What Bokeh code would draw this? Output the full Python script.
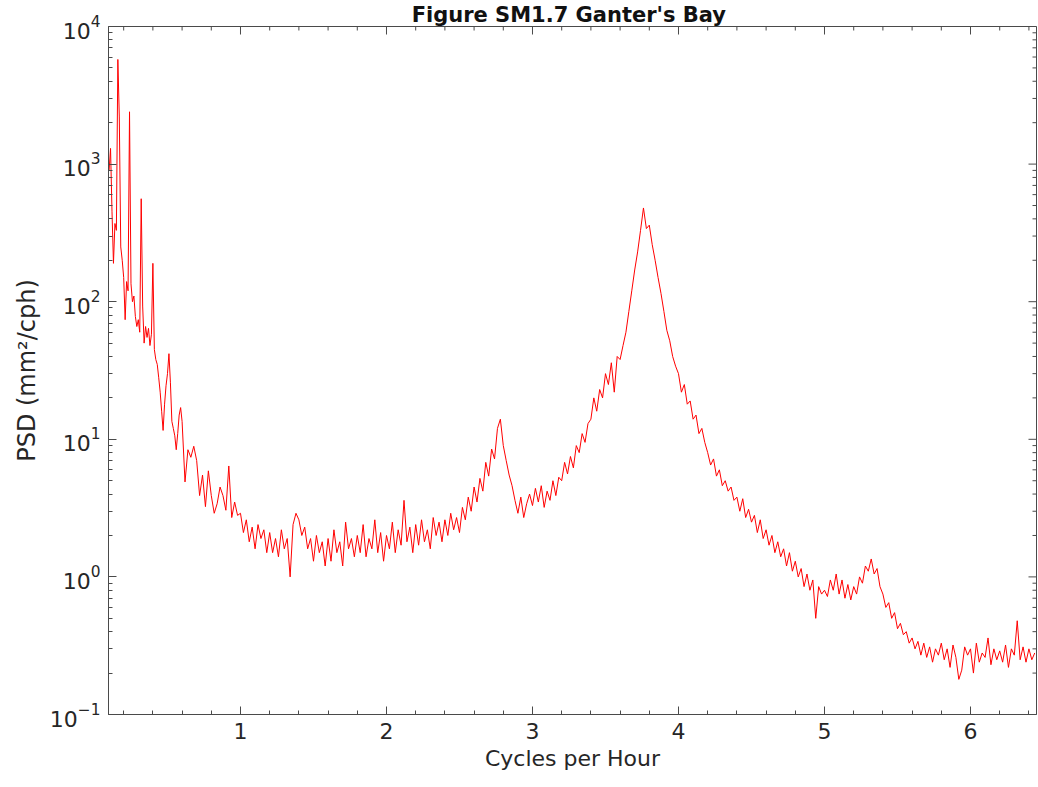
import numpy as np
from bokeh.plotting import figure
from bokeh.models import (ColumnDataSource, FixedTicker, LogTickFormatter, Range1d, Title)
from bokeh.embed import file_html
from bokeh.resources import INLINE

# ---------------- data ----------------
title_text = "Figure SM1.7  Ganter's Bay"
x_label = "Cycles per Hour"
y_label = "PSD (mm\u00b2/cph)"
x_tick_values = [1, 2, 3, 4, 5, 6]
y_tick_values = [0.1, 1, 10, 100, 1000, 10000]

# frequency bins (cph): fine bins at low frequency, coarser above 0.6 cph
freq_low = [round(0.10 + 0.01 * i, 2) for i in range(50)]
freq_high = [round(0.60 + 0.02 * i, 2) for i in range(293)]

# PSD (mm^2/cph) for 0.10 .. 0.59 cph
psd_low = [900, 1300, 450, 190, 370, 330, 5760, 2200, 250, 200,
           150, 74, 140, 120, 2400, 135, 100, 110, 78, 66,
           74, 60, 560, 93, 50, 66, 55, 64, 48, 58,
           190, 45, 38, 35, 28, 22, 16, 11.6, 18, 24.5,
           30, 41.9, 26, 13.5, 12, 10.6, 8.4, 11, 15, 17]

# PSD (mm^2/cph) for 0.60 .. 6.44 cph
psd_high = [13.5, 4.9, 8.4, 7.4, 8.9, 7.0, 3.9, 5.5, 3.24, 5.9,
            3.9, 2.9, 3.4, 4.5, 3.9, 3.05, 6.4, 2.7, 3.5, 2.8,
            2.9, 2.1, 2.6, 1.8, 2.3, 1.6, 2.4, 1.9, 2.2, 1.5,
            2.1, 1.5, 1.9, 1.4, 2.2, 1.6, 1.9, 1.0, 2.4, 2.9,
            2.6, 2.0, 2.3, 1.6, 1.9, 1.3, 2.0, 1.5, 1.8, 1.2,
            1.9, 1.3, 2.2, 1.5, 1.8, 1.2, 2.5, 1.6, 1.9, 1.4,
            2.0, 1.5, 2.4, 1.4, 1.9, 1.6, 2.6, 1.5, 2.1, 1.3,
            2.0, 1.6, 2.5, 1.5, 2.2, 1.7, 3.6, 1.8, 2.3, 1.5,
            2.4, 1.7, 2.6, 1.8, 2.2, 1.6, 2.7, 2.0, 2.5, 1.8,
            2.6, 2.0, 2.9, 2.2, 2.7, 2.1, 3.2, 2.6, 3.8, 3.0,
            4.5, 3.5, 5.2, 4.2, 6.8, 5.4, 8.5, 7.2, 12.0, 14.0,
            9.0, 7.0, 5.5, 4.6, 3.6, 2.9, 3.8, 2.7, 3.4, 4.0,
            3.3, 4.4, 3.5, 4.6, 3.2, 4.2, 3.6, 5.0, 3.9, 5.3,
            5.0, 6.8, 5.6, 7.5, 6.2, 9.0, 8.0, 11.0, 9.5, 13.0,
            14, 20, 16, 23, 20, 30, 25, 36, 22, 40,
            38, 48, 60, 85, 120, 170, 230, 330, 480, 340,
            360, 260, 200, 150, 115, 85, 62, 52, 40, 34,
            30, 22, 25, 18, 19, 14, 15, 11, 12, 9.5,
            8.0, 6.5, 7.2, 5.4, 6.0, 4.6, 5.0, 4.2, 4.5, 3.6,
            3.8, 3.0, 3.7, 2.7, 3.1, 2.5, 2.8, 2.1, 2.6, 1.9,
            2.2, 1.7, 2.0, 1.5, 1.8, 1.4, 1.6, 1.2, 1.5, 1.1,
            1.3, 1.0, 1.15, 0.85, 1.05, 0.8, 0.95, 0.5, 0.85, 0.75,
            0.8, 0.72, 0.95, 0.8, 1.05, 0.75, 0.95, 0.7, 0.88, 0.68,
            0.85, 0.75, 1.0, 0.9, 1.2, 1.1, 1.35, 1.05, 1.15, 0.85,
            0.75, 0.6, 0.65, 0.5, 0.55, 0.42, 0.46, 0.38, 0.4, 0.33,
            0.36, 0.3, 0.34, 0.27, 0.33, 0.26, 0.31, 0.24, 0.3, 0.27,
            0.33, 0.25, 0.3, 0.22, 0.32, 0.26, 0.18, 0.21, 0.31, 0.27,
            0.3, 0.2, 0.33, 0.24, 0.28, 0.26, 0.36, 0.23, 0.3, 0.25,
            0.29, 0.24, 0.32, 0.22, 0.3, 0.27, 0.48, 0.25, 0.31, 0.24,
            0.3, 0.25, 0.28]

freq = freq_low + freq_high
psd = psd_low + psd_high

# ---------------- styling ----------------
FONT = "DejaVu Sans"
TXT = "#262626"
AX = "#4a4a4a"
X0, X1 = 0.096, 6.452
Y0, Y1 = 0.1, 10000

x_minor = [round(0.2 * i, 1) for i in range(1, 33) if i % 5 != 0]
y_minor = [k * 10.0 ** e for e in range(-1, 4) for k in range(2, 10)]

p = figure(width=1038, height=787, output_backend="svg", toolbar_location=None,
           x_range=Range1d(X0, X1), y_range=Range1d(Y0, Y1),
           y_axis_type="log",
           min_border_left=108, min_border_right=2, min_border_top=0,
           min_border_bottom=73)
p.title = Title(text=title_text, align="center", text_font=FONT,
                text_font_style="bold", text_font_size="21px", text_color="#111111",
                standoff=0, offset=0)
p.background_fill_color = "white"
p.border_fill_color = "white"
p.outline_line_color = AX
p.outline_line_width = 1
p.xgrid.visible = False
p.ygrid.visible = False


def style_axis(ax):
    ax.axis_line_color = AX
    ax.axis_line_width = 1
    ax.major_tick_line_color = AX
    ax.minor_tick_line_color = AX
    ax.major_tick_in = 8
    ax.major_tick_out = 0
    ax.minor_tick_in = 4
    ax.minor_tick_out = 0
    ax.major_label_text_font = FONT
    ax.major_label_text_font_size = "22px"
    ax.major_label_text_color = TXT
    ax.axis_label_text_font = FONT
    ax.axis_label_text_font_style = "normal"
    ax.axis_label_text_color = TXT


xa = p.xaxis[0]
xa.ticker = FixedTicker(ticks=x_tick_values, minor_ticks=x_minor)
style_axis(xa)
xa.axis_label = x_label
xa.axis_label_text_font_size = "22px"
xa.major_label_standoff = 8
xa.axis_label_standoff = 4

ya = p.yaxis[0]
ya.ticker = FixedTicker(ticks=y_tick_values, minor_ticks=y_minor)
ya.formatter = LogTickFormatter()
style_axis(ya)
ya.axis_label = y_label
ya.axis_label_text_font_size = "24px"
ya.major_label_standoff = 8
ya.axis_label_standoff = 6

# inward ticks on the top and right edges of the box (half of each dash is
# clipped away by the frame, leaving an inward tick)
top_major = ColumnDataSource(data=dict(x=x_tick_values, y=[Y1] * len(x_tick_values)))
top_minor = ColumnDataSource(data=dict(x=x_minor, y=[Y1] * len(x_minor)))
right_major = ColumnDataSource(data=dict(x=[X1] * len(y_tick_values), y=y_tick_values))
right_minor = ColumnDataSource(data=dict(x=[X1] * len(y_minor), y=y_minor))
p.scatter("x", "y", source=top_major, marker="dash", size=16, angle=np.pi / 2,
          line_color=AX, line_width=1)
p.scatter("x", "y", source=top_minor, marker="dash", size=8, angle=np.pi / 2,
          line_color=AX, line_width=1)
p.scatter("x", "y", source=right_major, marker="dash", size=16,
          line_color=AX, line_width=1)
p.scatter("x", "y", source=right_minor, marker="dash", size=8,
          line_color=AX, line_width=1)

src = ColumnDataSource(data=dict(freq=freq, psd=psd))
p.line("freq", "psd", source=src, line_color="#ff0000", line_width=1)

open("out.html", "w").write(file_html(p, INLINE))
